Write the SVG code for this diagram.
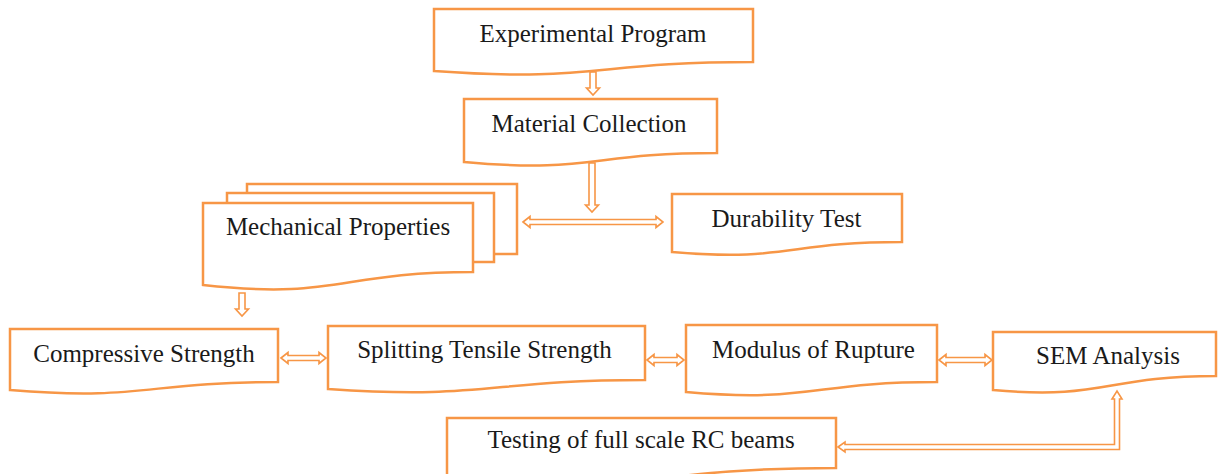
<svg xmlns="http://www.w3.org/2000/svg" width="1218" height="474" viewBox="0 0 1218 474">
<style>
.box{fill:#fff;stroke:#F79646;stroke-width:2.5;stroke-linejoin:miter}
.arr{fill:#fff;stroke:#F79646;stroke-width:1.6;stroke-linejoin:miter}
.t{font-family:"Liberation Serif","Times New Roman",serif;font-size:25px;fill:#1a1a1a;text-anchor:middle}
</style>
<rect width="1218" height="474" fill="#fff"/>
<g id="connectors">
<path class="arr" d="M590 72 H596 V88 H599.5 L593 95 L586.5 88 H590 Z"/>
<path class="arr" d="M589 163 H595 V205 H598.5 L592 212 L585.5 205 H589 Z"/>
<path class="arr" d="M523 222 L530 216.5 V219.5 H656 V216.5 L663 222 L656 227.5 V224.5 H530 V227.5 Z"/>
<path class="arr" d="M239 293 H245 V309 H248.5 L242 316 L235.5 309 H239 Z"/>
<path class="arr" d="M281 358 L288 352.5 V355.5 H319 V352.5 L326 358 L319 363.5 V360.5 H288 V363.5 Z"/>
<path class="arr" d="M647 360 L654 354.5 V357.5 H677 V354.5 L684 360 L677 365.5 V362.5 H654 V365.5 Z"/>
<path class="arr" d="M939 360 L946 354.5 V357.5 H985 V354.5 L992 360 L985 365.5 V362.5 H946 V365.5 Z"/>
<path class="arr" d="M838 447 L845 442 V444.5 H1114.5 V399 H1112 L1117 391 L1122 399 H1119.5 V449.5 H845 V452 Z"/>
</g>
<g id="n-experimental">
<path class="box" d="M434 9 H753 V62 C593.5 62 593.5 82.5 434 71 Z"/>
<text class="t" x="593" y="42">Experimental Program</text>
</g>
<g id="n-material">
<path class="box" d="M464 99 H717 V153 C590.5 153 590.5 173.5 464 162 Z"/>
<text class="t" x="589" y="132">Material Collection</text>
</g>
<g id="n-mechanical">
<rect class="box" x="247" y="184" width="270" height="70"/>
<rect class="box" x="227" y="193" width="267" height="69"/>
<path class="box" d="M203 203 H473 V272 C338 272 338 300 203 285 Z"/>
<text class="t" x="338" y="235">Mechanical Properties</text>
</g>
<g id="n-durability">
<path class="box" d="M672 194 H902 V242 C787 242 787 262 672 252 Z"/>
<text class="t" x="786.5" y="227">Durability Test</text>
</g>
<g id="n-compressive">
<path class="box" d="M10 329 H278 V382 C144 382 144 401 10 390 Z"/>
<text class="t" x="144" y="362">Compressive Strength</text>
</g>
<g id="n-splitting">
<path class="box" d="M328 326 H645 V380 C486.5 380 486.5 400 328 389 Z"/>
<text class="t" x="484.5" y="358">Splitting Tensile Strength</text>
</g>
<g id="n-modulus">
<path class="box" d="M686 325 H937 V382 C811.5 382 811.5 403 686 392 Z"/>
<text class="t" x="813.5" y="358">Modulus of Rupture</text>
</g>
<g id="n-sem">
<path class="box" d="M993 332 H1216 V376 C1104.5 376 1104.5 400 993 390 Z"/>
<text class="t" x="1108" y="364">SEM Analysis</text>
</g>
<g id="n-testing">
<path class="box" d="M447 418 H836 V468 C641.5 468 641.5 496 447 485 Z"/>
<text class="t" x="641" y="448">Testing of full scale RC beams</text>
</g>
</svg>
